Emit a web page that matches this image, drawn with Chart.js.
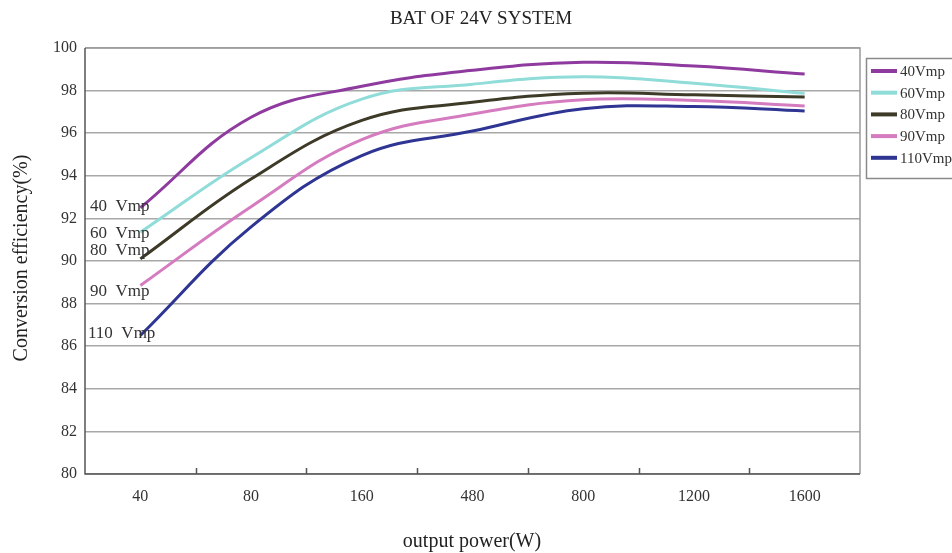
<!DOCTYPE html>
<html>
<head>
<meta charset="utf-8">
<script src="https://cdn.jsdelivr.net/npm/chart.js@4.4.1/dist/chart.umd.min.js"></script>
<style>
html,body{margin:0;padding:0;background:#fff;}
#wrap{width:952px;height:553px;position:relative;}
</style>
</head>
<body>
<div id="wrap"><canvas id="c" width="952" height="553"></canvas></div>
<script>
const categories = ["40", "80", "160", "480", "800", "1200", "1600"];
const seriesNames = ["40Vmp", "60Vmp", "80Vmp", "90Vmp", "110Vmp"];
const annotationLabels = ["40  Vmp", "60  Vmp", "80  Vmp", "90  Vmp", "110  Vmp"];
const v40  = [92.5, 96.75, 98.2, 98.95, 99.33, 99.15, 98.78];
const v60  = [91.35, 94.85, 97.6, 98.3, 98.65, 98.35, 97.87];
const v80  = [90.1, 93.85, 96.6, 97.45, 97.88, 97.8, 97.7];
const v90  = [88.85, 92.55, 95.7, 96.9, 97.57, 97.53, 97.28];
const v110 = [86.5, 91.6, 94.95, 96.1, 97.15, 97.25, 97.04];
const yTicks = [80, 82, 84, 86, 88, 90, 92, 94, 96, 98, 100];
const titleText = "BAT OF 24V SYSTEM";
const xTitle = "output power(W)";
const yTitle = "Conversion efficiency(%)";

const colors = ["#8e3a9f", "#8fdcd9", "#3d3a28", "#d57bbf", "#2f3593"];
const allValues = [v40, v60, v80, v90, v110];
const FONT = "'Liberation Serif', 'DejaVu Serif', serif";
// annotation vertical offsets relative to line start (px)
const annOffsets = [-1, 1, -8, 6, -2];

const extras = {
  id: 'extras',
  afterDraw(chart) {
    const ctx = chart.ctx;
    const a = chart.chartArea;
    const xs = chart.scales.x, ys = chart.scales.y;
    ctx.save();
    // plot box top/right border
    ctx.strokeStyle = '#9a9a9a';
    ctx.lineWidth = 1.5;
    ctx.beginPath();
    ctx.moveTo(a.left, a.top); ctx.lineTo(a.right, a.top); ctx.lineTo(a.right, a.bottom);
    ctx.stroke();
    // axes
    ctx.strokeStyle = '#555';
    ctx.lineWidth = 1.5;
    ctx.beginPath();
    ctx.moveTo(a.left, a.top); ctx.lineTo(a.left, a.bottom); ctx.lineTo(a.right, a.bottom);
    ctx.stroke();
    // x tick marks between categories (inward)
    ctx.beginPath();
    for (let i = 1; i < categories.length; i++) {
      const x = (xs.getPixelForTick(i - 1) + xs.getPixelForTick(i)) / 2;
      ctx.moveTo(Math.round(x) + 0.5, a.bottom); ctx.lineTo(Math.round(x) + 0.5, a.bottom - 6);
    }
    ctx.stroke();
    // title
    ctx.fillStyle = '#222';
    ctx.font = "19px " + FONT;
    ctx.textAlign = 'center'; ctx.textBaseline = 'middle';
    ctx.fillText(titleText, 481, 19);
    // x title
    ctx.font = "20px " + FONT;
    ctx.fillText(xTitle, 472, 542);
    // y title
    ctx.save();
    ctx.translate(22, 258);
    ctx.rotate(-Math.PI / 2);
    ctx.fillText(yTitle, 0, 0);
    ctx.restore();
    // annotations near line starts
    ctx.font = "17px " + FONT;
    ctx.textAlign = 'left'; ctx.textBaseline = 'middle';
    ctx.fillStyle = '#333';
    chart.data.datasets.forEach((ds, i) => {
      const y = ys.getPixelForValue(ds.data[0]) + annOffsets[i];
      const x = i === 4 ? a.left + 3 : a.left + 5;
      ctx.fillText(annotationLabels[i], x, y);
    });
    // legend
    const lx = 866, ly = 58, lw = 90, lh = 120;
    ctx.fillStyle = '#fff';
    ctx.fillRect(lx, ly, lw, lh);
    ctx.strokeStyle = '#8a8a8a';
    ctx.lineWidth = 1.5;
    ctx.strokeRect(lx + 0.5, ly + 0.5, lw, lh);
    ctx.font = "15px " + FONT;
    chart.data.datasets.forEach((ds, i) => {
      const cy = ly + 13 + i * 21.7;
      ctx.strokeStyle = ds.borderColor;
      ctx.lineWidth = 4;
      ctx.beginPath(); ctx.moveTo(871, cy); ctx.lineTo(897, cy); ctx.stroke();
      ctx.fillStyle = '#333';
      ctx.fillText(ds.label, 900, cy + 1);
    });
    ctx.restore();
  }
};

new Chart(document.getElementById('c'), {
  type: 'line',
  data: {
    labels: categories,
    datasets: seriesNames.map((n, i) => ({
      label: n,
      data: allValues[i],
      borderColor: colors[i],
      backgroundColor: colors[i],
      borderWidth: 3,
      pointRadius: 0,
      tension: 0.4,
      fill: false
    }))
  },
  options: {
    responsive: false,
    animation: false,
    layout: { padding: { top: 48, right: 92, left: 0, bottom: 0 } },
    plugins: { legend: { display: false }, title: { display: false }, tooltip: { enabled: false } },
    scales: {
      x: {
        type: 'category',
        offset: true,
        grid: { display: false, drawTicks: false },
        border: { display: false },
        ticks: { color: '#333', font: { family: FONT, size: 16 }, padding: 13, maxRotation: 0 },
        afterFit: s => { s.height = 79; }
      },
      y: {
        min: 80, max: 100,
        afterBuildTicks: s => { s.ticks = yTicks.map(v => ({ value: v })); },
        grid: { color: '#a8a8a8', lineWidth: 1.5, drawTicks: false },
        border: { display: false },
        ticks: { color: '#333', font: { family: FONT, size: 16 }, padding: 8 },
        afterFit: s => { s.width = 85; }
      }
    }
  },
  plugins: [extras]
});
</script>
</body>
</html>
